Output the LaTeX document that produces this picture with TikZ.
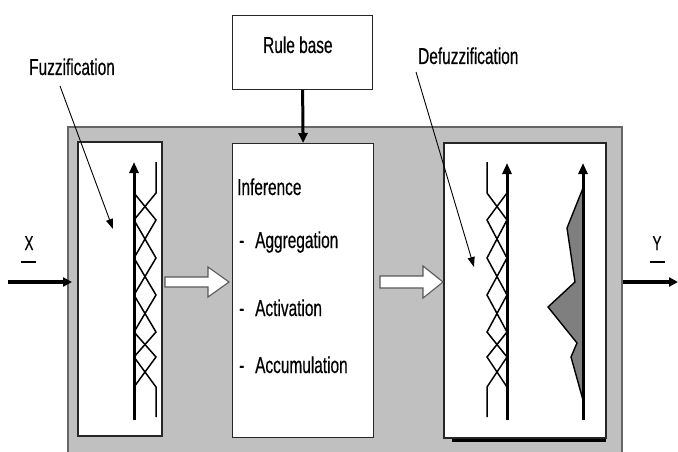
\documentclass[tikz,border=0pt]{standalone}
\usepackage{fontspec}
\setmainfont{Liberation Sans}[FakeStretch=0.67,FakeBold=0.4]
\usetikzlibrary{arrows.meta}
\definecolor{panelgray}{HTML}{C0C0C0}
\definecolor{fillgray}{HTML}{7F7F7F}
\tikzset{
  lbl/.style={anchor=base west, inner sep=0pt, font=\fontsize{23}{27}\selectfont},
  io/.style={anchor=base, inner sep=0pt, font=\fontsize{20}{24}\selectfont},
  wbox/.style={draw=black!85, fill=white, line width=1.2pt},
  axisline/.style={line width=3pt, -{Triangle[length=11pt,width=9pt]}},
  mf/.style={line width=1.5pt, line join=miter},
  pointer/.style={line width=0.9pt, -{Triangle[length=10pt,width=7pt]}},
  hollow/.style={draw=black!65, fill=white, line width=1.1pt},
  thickarrow/.style={line width=3.2pt, -{Triangle[length=9pt,width=9pt]}}
}
\begin{document}
\begin{tikzpicture}[x=1pt,y=-1pt]
\useasboundingbox (0,0) rectangle (678,452);
\fill[white] (0,0) rectangle (678,452);
% outer panel
\draw[fill=panelgray, draw=black!60, line width=1.2pt] (68,127) -- (622,127) -- (622,460) -- (68,460) -- cycle;
% boxes
\draw[wbox] (78,142) rectangle (162,436);
\node[wbox, minimum width=141pt, minimum height=294pt, anchor=north west, inner sep=0pt] (inf) at (232,143) {};
\draw[line width=3.5pt] (452,440) -- (606,440);
\draw[wbox] (444,143) rectangle (606,438);
\node[wbox, minimum width=140pt, minimum height=74pt, anchor=north west, inner sep=0pt] (rb) at (232,15) {};
% texts
\node[lbl] (tfuz) at (29,75) {Fuzzification};
\node[lbl] (trb) at (263,53) {Rule base};
\node[lbl] (tdef) at (418,64) {Defuzzification};
\node[lbl] (tinf) at (237,195) {Inference};
\node[lbl] (d1) at (239,248) {-};
\node[lbl] (t1) at (255,248) {Aggregation};
\node[lbl] (d2) at (239,316) {-};
\node[lbl] (t2) at (255,316) {Activation};
\node[lbl] (d3) at (239,373) {-};
\node[lbl] (t3) at (255,373) {Accumulation};
\node[io] (tx) at (29,250) {X};
\draw[line width=1.8pt] (21,262) -- (36,262);
\node[io] (ty) at (657,250) {Y};
\draw[line width=1.8pt] (650,262) -- (665,262);
% rule base to inference
\draw[line width=3pt, -{Triangle[length=10pt,width=9pt]}] (rb.south) -- (inf.north);
% input / output arrows
\coordinate (xin) at (8,282);
\coordinate (xend) at (72,282);
\draw[thickarrow] (xin) -- (xend);
\coordinate (yst) at (623,282);
\coordinate (yend) at (678,282);
\draw[thickarrow] (yst) -- (yend);
% hollow arrows
\draw[hollow] (165,277) -- (208,277) -- (208,267) -- (229,282) -- (208,297) -- (208,287) -- (165,287) -- cycle;
\draw[hollow] (380,276) -- (423,276) -- (423,266) -- (443,282) -- (423,298) -- (423,288) -- (380,288) -- cycle;
% left membership functions
\draw[axisline] (134,420) -- (134,162);
\draw[mf] (156,162) -- (156,193) -- (134,220);
\draw[mf] (134,193) -- (156,220) -- (134,258);
\draw[mf] (134,220) -- (156,258) -- (134,295);
\draw[mf] (134,258) -- (156,295) -- (134,332);
\draw[mf] (134,295) -- (156,332) -- (134,357);
\draw[mf] (134,332) -- (156,357) -- (134,387);
\draw[mf] (134,357) -- (156,387) -- (156,417);
% right membership functions (mirrored)
\draw[axisline] (507,420) -- (507,163);
\draw[mf] (487,162) -- (487,193) -- (507,220);
\draw[mf] (507,193) -- (487,220) -- (507,258);
\draw[mf] (507,220) -- (487,258) -- (507,295);
\draw[mf] (507,258) -- (487,295) -- (507,332);
\draw[mf] (507,295) -- (487,332) -- (507,357);
\draw[mf] (507,332) -- (487,357) -- (507,387);
\draw[mf] (507,357) -- (487,387) -- (487,417);
% output shape
\fill[fillgray] (583,188) -- (567,228) -- (575,282) -- (548,307) -- (577,343) -- (571,357) -- (583,400) -- cycle;
\draw[line width=1.4pt, line join=miter] (583,188) -- (567,228) -- (575,282) -- (548,307) -- (577,343) -- (571,357) -- (583,400);
\draw[axisline] (583,420) -- (583,163);
% pointers
\coordinate (pf1) at (60,86);
\coordinate (pf2) at (113,229);
\draw[pointer] (pf1) -- (pf2);
\coordinate (pd1) at (416,72);
\coordinate (pd2) at (474,267);
\draw[pointer] (pd1) -- (pd2);
\end{tikzpicture}
\end{document}
